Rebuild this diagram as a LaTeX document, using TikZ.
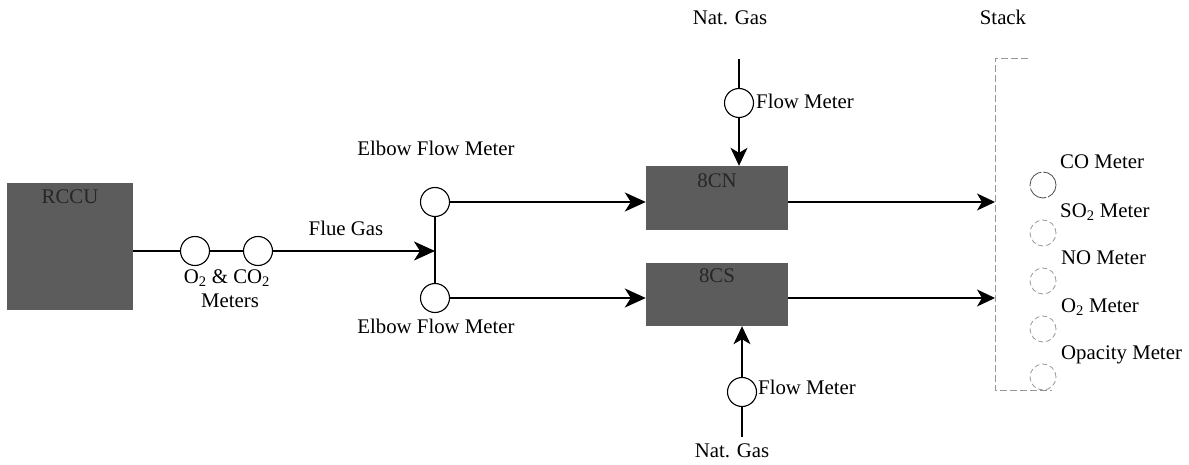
\documentclass[tikz,border=0pt]{standalone}
\usepackage{fontspec}
\setmainfont{Liberation Serif}
\usetikzlibrary{arrows.meta}
\definecolor{boxgray}{RGB}{92,92,92}
\definecolor{stackgray}{RGB}{150,150,150}
\begin{document}
\begin{tikzpicture}[x=1pt,y=-1pt,
  font=\fontsize{20.8}{24}\selectfont,
  unitbox/.style={rectangle, fill=boxgray, draw=none, inner sep=0},
  boxtext/.style={inner sep=0, text=black!85},
  meter/.style={circle, draw, line width=1.1pt, minimum size=29pt, inner sep=0, fill=white},
  smeter/.style={circle, draw=stackgray, line width=0.8pt, dash pattern=on 5pt off 3pt, minimum size=26pt, inner sep=0},
  lbl/.style={inner sep=0},
  pipe/.style={line width=1.8pt},
  thinpipe/.style={line width=1.2pt},
  bigarrow/.style={-{Stealth[length=21pt,width=19pt,inset=6pt]}},
  midarrow/.style={-{Stealth[length=18pt,width=17pt,inset=5pt]}},
  stackline/.style={draw=stackgray, line width=0.9pt, dash pattern=on 7pt off 3pt}
]
\useasboundingbox (0,0) rectangle (1189,465);

% RCCU
\node[unitbox, minimum width=126pt, minimum height=127pt] (rccu) at (70,246.5) {};
\node[boxtext] (rccut) at (70,197) {RCCU};

% O2 & CO2 meters
\node[meter] (m1) at (195,251) {};
\node[meter] (m2) at (258,251) {};
\node[lbl] (m12a) at (227,278) {O\textsubscript{2} \& CO\textsubscript{2}};
\node[lbl] (m12b) at (230,301) {Meters};
\coordinate (join) at (435,251);
\node[lbl] (flue) at (346,228) {Flue Gas};

\draw[pipe] (rccu.east |- m1) -- (m1);
\draw[pipe] (m1) -- (m2);
\draw[pipe, bigarrow] (m2) -- (join);

% Elbow flow meters
\node[meter] (e1) at (435,202) {};
\node[meter] (e2) at (435,298) {};
\node[lbl] (e1t) at (436,148) {Elbow Flow Meter};
\node[lbl] (e2t) at (436,326) {Elbow Flow Meter};
\draw[pipe] (e1) -- (e2);

% Units 8CN / 8CS
\node[unitbox, minimum width=142pt, minimum height=64pt] (cn) at (717,198) {};
\node[boxtext] (cnt) at (717,181) {8CN};
\node[unitbox, minimum width=142pt, minimum height=63pt] (cs) at (717,294.5) {};
\node[boxtext] (cst) at (717,276) {8CS};

\draw[pipe, bigarrow] (e1) -- (e1 -| cn.west);
\draw[pipe, bigarrow] (e2) -- (e2 -| cs.west);

% Natural gas, top
\node[lbl] (ng1) at (730,18) {Nat. Gas};
\coordinate (ng1s) at (739,59);
\node[meter] (fm1) at (739,103) {};
\node[lbl, anchor=west] (fm1t) at (756,101) {Flow Meter};
\draw[thinpipe] (ng1s) -- (fm1);
\draw[thinpipe, midarrow] (fm1) -- (fm1 |- cn.north);

% Natural gas, bottom
\node[lbl] (ng2) at (732,451) {Nat. Gas};
\coordinate (ng2s) at (742,437);
\node[meter] (fm2) at (742,392) {};
\node[lbl, anchor=west] (fm2t) at (758,387) {Flow Meter};
\draw[thinpipe] (ng2s) -- (fm2);
\draw[thinpipe, midarrow] (fm2) -- (fm2 |- cs.south);

% Stack
\node[lbl] (stack) at (1003,17) {Stack};
\coordinate (stl) at (995,202);
\coordinate (stl2) at (995,298);
\draw[stackline] (1028,58) -- (995,58) -- (995,390) -- (1052,390);
\draw[thinpipe, midarrow] (cn.east |- stl) -- (stl);
\draw[thinpipe, midarrow] (cs.east |- stl2) -- (stl2);

\node[smeter, draw=black!70, dash pattern=on 20pt off 2pt] (s1) at (1043,185) {};
\node[smeter] (s2) at (1043,233) {};
\node[smeter] (s3) at (1043,281) {};
\node[smeter] (s4) at (1043,329) {};
\node[smeter] (s5) at (1043,377) {};
\node[lbl, anchor=west] (s1t) at (1060,162) {CO Meter};
\node[lbl, anchor=west] (s2t) at (1060,212) {SO\textsubscript{2} Meter};
\node[lbl, anchor=west] (s3t) at (1061,258) {NO Meter};
\node[lbl, anchor=west] (s4t) at (1061,307) {O\textsubscript{2} Meter};
\node[lbl, anchor=west] (s5t) at (1061,355) {Opacity Meter};
\end{tikzpicture}
\end{document}
